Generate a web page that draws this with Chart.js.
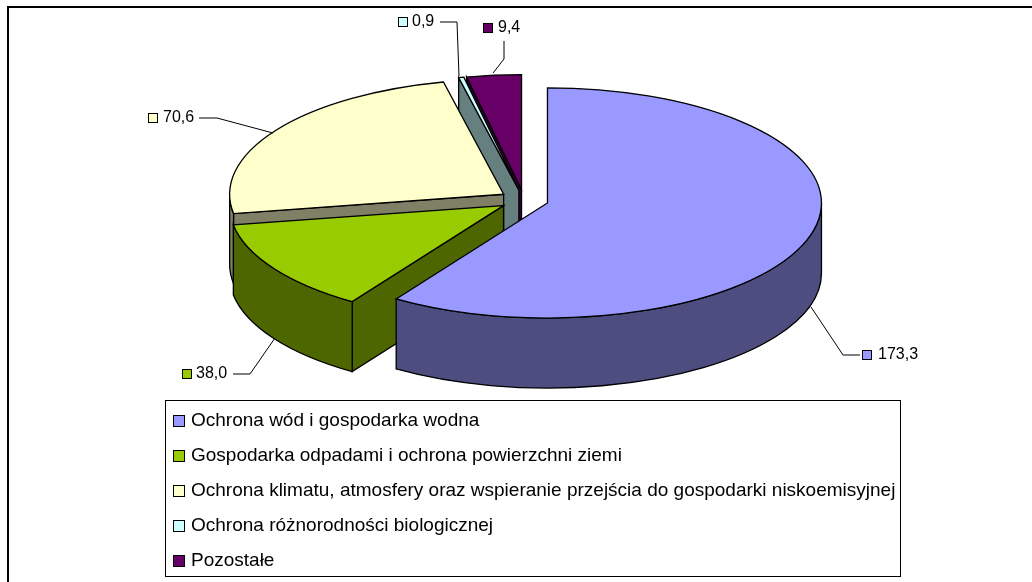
<!DOCTYPE html>
<html lang="pl">
<head>
<meta charset="utf-8">
<style>
  html, body { margin: 0; padding: 0; background: #fff; }
  #wrap { position: relative; width: 1032px; height: 582px; }
</style>
<script src="https://cdn.jsdelivr.net/npm/chart.js@4"></script>
</head>
<body>
<div id="wrap"><canvas id="chart"></canvas></div>
<script>
/* dane */
const categories = [
  'Ochrona wód i gospodarka wodna',
  'Gospodarka odpadami i ochrona powierzchni ziemi',
  'Ochrona klimatu, atmosfery oraz wspieranie przejścia do gospodarki niskoemisyjnej',
  'Ochrona różnorodności biologicznej',
  'Pozostałe'
];
const values = [173.3, 38.0, 70.6, 0.9, 9.4];
const topColors  = ['#9999FF', '#99CC00', '#FFFFCC', '#CCFFFF', '#660066'];
const sideColors = ['#4D4D80', '#4D6600', '#808066', '#668080', '#330033'];

/* układ */
const LABEL_FONT = '16px "Liberation Sans", Arial, sans-serif';
const LEGEND_FONT = '19px "Liberation Sans", Arial, sans-serif';
const RADIUS = 274, TILT = 0.42, DEPTH = 70, EXPLODE = 24.5;
const drawOrder = [4, 3, 2, 1, 0];   // od tyłu do przodu
const leaders = [
  { line: [[811, 307], [843, 355], [860, 355]], box: [862, 350], text: [878, 355] },
  { line: [[275, 338], [250, 374], [233, 374]], box: [182, 369], text: [196, 374] },
  { line: [[273, 133], [217, 118], [199, 118]], box: [148, 113], text: [163, 118] },
  { line: [[459, 76], [457, 22], [440, 22]],    box: [398, 17],  text: [412, 22] },
  { line: [[493, 73], [504, 59], [504, 41]],    box: [483, 23],  text: [498, 28] }
];
const legendRows = [420.5, 455.5, 490.5, 525.5, 560.5];

function formatValue(v) {
  return v.toFixed(1).replace('.', ',');
}

function drawSwatch(ctx, x, y, size, color) {
  ctx.fillStyle = color;
  ctx.fillRect(x + 0.5, y + 0.5, size, size);
  ctx.strokeStyle = '#000';
  ctx.lineWidth = 1;
  ctx.strokeRect(x + 0.5, y + 0.5, size, size);
}

const pie3d = {
  id: 'pie3d',
  beforeDatasetDraw(chart) {
    const ctx = chart.ctx;
    const arcs = chart.getDatasetMeta(0).data;
    drawOrder.forEach(i => {
      const arc = arcs[i];
      const a0 = arc.startAngle, a1 = arc.endAngle;
      const mid = (a0 + a1) / 2;
      const cx = arc.x + Math.cos(mid) * EXPLODE;
      const cy = arc.y + Math.sin(mid) * EXPLODE * TILT;
      const r = arc.outerRadius, ry = r * TILT;
      const px = a => cx + Math.cos(a) * r;
      const py = a => cy + Math.sin(a) * ry;

      // bryła: obie ścianki promieniowe i cała ściana boczna
      ctx.save();
      ctx.fillStyle = sideColors[i];
      ctx.strokeStyle = '#000';
      ctx.lineWidth = 1.3;
      [a0, a1].forEach(a => {
        ctx.beginPath();
        ctx.moveTo(cx, cy);
        ctx.lineTo(px(a), py(a));
        ctx.lineTo(px(a), py(a) + DEPTH);
        ctx.lineTo(cx, cy + DEPTH);
        ctx.closePath();
        ctx.fill();
      });
      ctx.beginPath();
      ctx.ellipse(cx, cy, r, ry, 0, a0, a1);
      ctx.ellipse(cx, cy + DEPTH, r, ry, 0, a1, a0, true);
      ctx.closePath();
      ctx.fill();

      // krawędzie tylko widocznych ścianek
      const faces = [];
      if (Math.cos(a0) < -1e-6) faces.push(a0);
      if (Math.cos(a1) > 1e-6) faces.push(a1);
      faces.forEach(a => {
        ctx.beginPath();
        ctx.moveTo(cx, cy);
        ctx.lineTo(px(a), py(a));
        ctx.lineTo(px(a), py(a) + DEPTH);
        ctx.lineTo(cx, cy + DEPTH);
        ctx.closePath();
        ctx.fill();
        ctx.stroke();
      });
      // dolna krawędź ściany - część zakresu 0..PI (kąty płótna)
      [-Math.PI * 2, 0, Math.PI * 2].forEach(shift => {
        const from = Math.max(a0, shift), to = Math.min(a1, shift + Math.PI);
        if (to <= from) return;
        ctx.beginPath();
        ctx.ellipse(cx, cy, r, ry, 0, from, to);
        ctx.ellipse(cx, cy + DEPTH, r, ry, 0, to, from, true);
        ctx.closePath();
        ctx.fill();
        ctx.stroke();
      });

      // wierzch rysuje sam element wykresu, tylko spłaszczony i przesunięty
      ctx.save();
      ctx.translate(cx, cy);
      ctx.scale(1, TILT);
      ctx.translate(-arc.x, -arc.y);
      arc.draw(ctx);
      ctx.restore();
      ctx.beginPath();
      ctx.moveTo(cx, cy);
      ctx.ellipse(cx, cy, r, ry, 0, a0, a1);
      ctx.closePath();
      ctx.stroke();
      ctx.restore();
    });
    return false;
  },
  afterDraw(chart) {
    const ctx = chart.ctx;
    ctx.save();
    // ramka obrazka
    ctx.strokeStyle = '#000';
    ctx.lineWidth = 2;
    ctx.beginPath();
    ctx.moveTo(8, 582);
    ctx.lineTo(8, 7);
    ctx.lineTo(1032, 7);
    ctx.stroke();

    // etykiety z liniami odniesienia
    ctx.font = LABEL_FONT;
    ctx.textBaseline = 'middle';
    ctx.textAlign = 'left';
    leaders.forEach((l, i) => {
      ctx.strokeStyle = '#000';
      ctx.lineWidth = 1;
      ctx.beginPath();
      l.line.forEach((p, j) => j ? ctx.lineTo(p[0], p[1]) : ctx.moveTo(p[0], p[1]));
      ctx.stroke();
      drawSwatch(ctx, l.box[0], l.box[1], 9, topColors[i]);
      ctx.fillStyle = '#000';
      ctx.fillText(formatValue(values[i]), l.text[0], l.text[1]);
    });

    // legenda
    ctx.fillStyle = '#fff';
    ctx.fillRect(165.5, 400.5, 735, 176);
    ctx.strokeStyle = '#000';
    ctx.lineWidth = 1;
    ctx.strokeRect(165.5, 400.5, 735, 176);
    ctx.font = LEGEND_FONT;
    categories.forEach((name, i) => {
      drawSwatch(ctx, 173, legendRows[i] - 5.5, 11, topColors[i]);
      ctx.fillStyle = '#000';
      ctx.fillText(name, 191, legendRows[i]);
    });
    ctx.restore();
  }
};

new Chart(document.getElementById('chart'), {
  type: 'pie',
  data: {
    labels: categories,
    datasets: [{
      data: values,
      backgroundColor: topColors,
      borderWidth: 0,
      radius: RADIUS,
      clip: false
    }]
  },
  options: {
    responsive: true,
    maintainAspectRatio: false,
    animation: false,
    layout: { padding: { left: 16, right: 0, top: 0, bottom: 182 } },
    plugins: { legend: { display: false }, tooltip: { enabled: false } }
  },
  plugins: [pie3d]
});
</script>
</body>
</html>
